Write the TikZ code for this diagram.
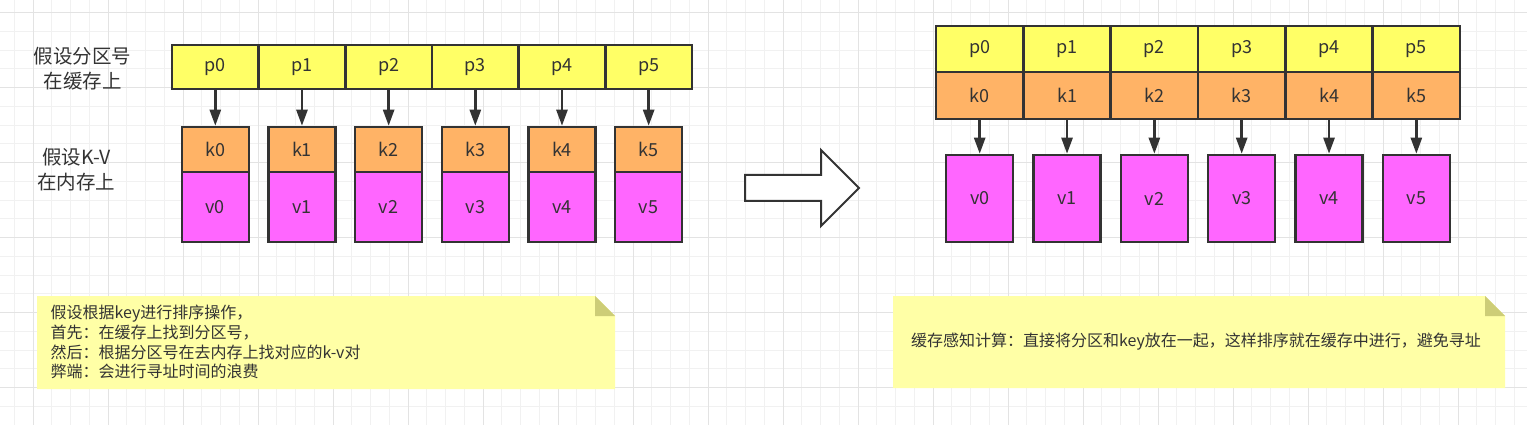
\documentclass[tikz,border=0pt]{standalone}
\usepackage{fontspec}
\setmainfont{Noto Sans CJK SC}
\usepackage{tikz}
\usetikzlibrary{arrows.meta}
\tikzset{>={Triangle[length=16pt,width=11pt]}}
\definecolor{inkcol}{HTML}{333333}
\definecolor{pcol}{HTML}{FFFF66}
\definecolor{kcol}{HTML}{FFB366}
\definecolor{vcol}{HTML}{FF66FF}
\definecolor{notecol}{HTML}{FFFFA6}
\definecolor{foldcol}{HTML}{CDCD77}
\definecolor{gridminor}{HTML}{F1F1F1}
\definecolor{gridmajor}{HTML}{E3E3E3}
\tikzstyle{cell}=[draw=inkcol,line width=2.5pt,text=inkcol,inner sep=0pt,font=\fontsize{18}{21}\selectfont]
\tikzstyle{part cell}=[cell,fill=pcol]
\tikzstyle{key cell}=[cell,fill=kcol]
\tikzstyle{val cell}=[cell,fill=vcol]
\tikzstyle{ptr arrow}=[->,line width=2.5pt,inkcol]
\tikzstyle{big arrow}=[draw=inkcol,fill=white,line width=2pt,line join=miter]
\tikzstyle{side label}=[text=inkcol,align=center,inner sep=0pt,font=\fontsize{19.5}{25}\selectfont]
\tikzstyle{note text}=[text=inkcol,inner sep=0pt,font=\fontsize{16}{19.7}\selectfont]

\begin{document}
\begin{tikzpicture}[x=1pt,y=-1pt]
  \def\Wl{86.67}
  \def\Wr{87.33}
  \def\fold{20}
  \useasboundingbox (0,0) rectangle (1527,425);
  \fill[white] (0,0) rectangle (1527,425);

  % GRID
  \foreach \k in {0,...,80}
    \draw[gridminor,line width=0.8pt] ({14.25+18.75*\k},0) -- ++(0,425);
  \foreach \k in {0,...,22}
    \draw[gridminor,line width=0.8pt] (0,{12.5+18.75*\k}) -- ++(1527,0);
  \foreach \k in {0,...,19}
    \draw[gridmajor,line width=0.8pt] ({33+75*\k},0) -- ++(0,425);
  \foreach \k in {0,...,5}
    \draw[gridmajor,line width=0.8pt] (0,{12.5+75*\k}) -- ++(1527,0);

  % LEFT: partitions in cache, k-v in memory
  \node[side label] (lcache) at (82.5,69) {假设分区号\\在缓存上};
  \node[side label] (lmem) at (76.5,169.5) {假设K-V\\在内存上};
  \foreach \i in {0,...,5}{
    \node[part cell,minimum width=\Wl pt,minimum height=44pt] (lp\i)
      at ({215.3+\Wl*\i},67) {p\i};
    \node[key cell,minimum width=67pt,minimum height=45pt] (lk\i)
      at ({215.3+\Wl*\i},149.5) {k\i};
    \node[val cell,minimum width=67pt,minimum height=70pt] (lv\i)
      at ({215.3+\Wl*\i},207) {v\i};
    \draw[ptr arrow] (lp\i) -- (lk\i);
  }

  % BIG ARROW
  \draw[big arrow] (745,175) -- (821,175) -- (821,150) -- (859,188)
    -- (821,226) -- (821,201) -- (745,201) -- cycle;

  % RIGHT: partitions and keys together in cache
  \foreach \i in {0,...,5}{
    \node[part cell,minimum width=\Wr pt,minimum height=46pt] (rp\i)
      at ({979.7+\Wr*\i},49) {p\i};
    \node[key cell,minimum width=\Wr pt,minimum height=47pt] (rk\i)
      at ({979.7+\Wr*\i},95.5) {k\i};
    \node[val cell,minimum width=67pt,minimum height=87pt] (rv\i)
      at ({979.7+\Wr*\i},198.5) {v\i};
    \draw[ptr arrow] (rk\i) -- (rv\i);
  }

  % NOTES
  \fill[notecol] (37,296) -- (615-\fold,296) -- (615,296+\fold) -- (615,389)
    -- (37,389) -- cycle;
  \fill[foldcol] (615-\fold,296) -- (615-\fold,296+\fold) -- (615,296+\fold) -- cycle;
  \node[note text,anchor=west,align=left] (lnote) at (50.5,342.2)
    {假设根据key进行排序操作，\\首先：在缓存上找到分区号，\\然后：根据分区号在去内存上找对应的k-v对\\弊端：会进行寻址时间的浪费};

  \fill[notecol] (893,296) -- (1505-\fold,296) -- (1505,296+\fold) -- (1505,388)
    -- (893,388) -- cycle;
  \fill[foldcol] (1505-\fold,296) -- (1505-\fold,296+\fold) -- (1505,296+\fold) -- cycle;
  \node[note text] (rnote) at (1196,342)
    {缓存感知计算：直接将分区和key放在一起，这样排序就在缓存中进行，避免寻址};
\end{tikzpicture}
\end{document}
